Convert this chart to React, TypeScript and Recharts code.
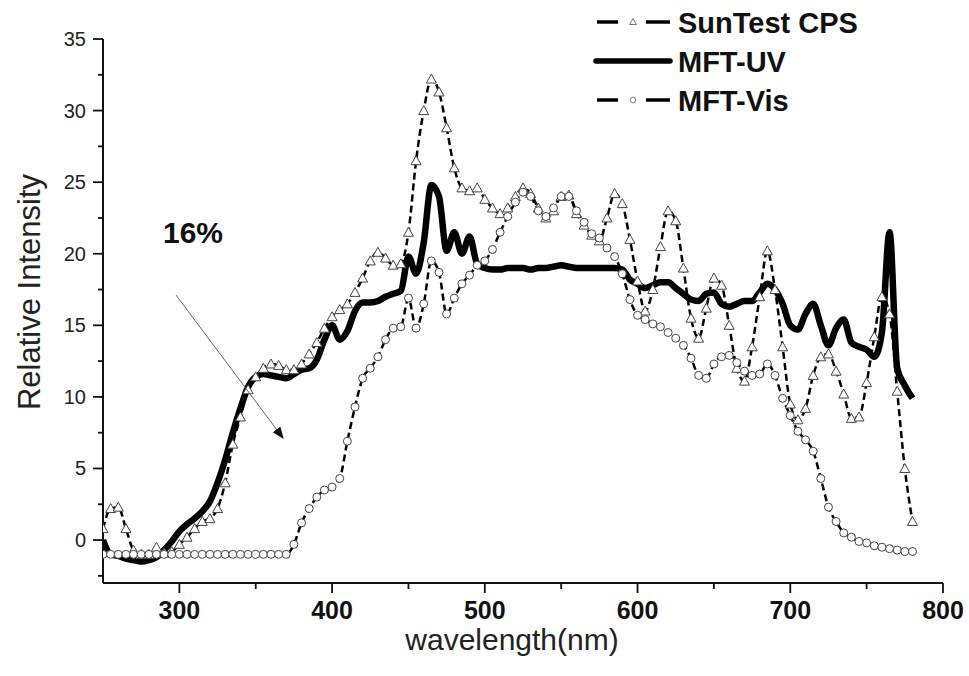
import React from 'react';
import { LineChart, Line, XAxis, YAxis } from 'recharts';

const wavelength = [
  250, 255, 260, 265, 270, 275, 280, 285, 290, 295,
  300, 305, 310, 315, 320, 325, 330, 335, 340, 345,
  350, 355, 360, 365, 370, 375, 380, 385, 390, 395,
  400, 405, 410, 415, 420, 425, 430, 435, 440, 445,
  450, 455, 460, 465, 470, 475, 480, 485, 490, 495,
  500, 505, 510, 515, 520, 525, 530, 535, 540, 545,
  550, 555, 560, 565, 570, 575, 580, 585, 590, 595,
  600, 605, 610, 615, 620, 625, 630, 635, 640, 645,
  650, 655, 660, 665, 670, 675, 680, 685, 690, 695,
  700, 705, 710, 715, 720, 725, 730, 735, 740, 745,
  750, 755, 760, 765, 770, 775, 780,
];

const sunTestCps = [
  0.8, 2.2, 2.3, 0.8, -0.7, -1.0, -1.0, -0.5, -0.9, -0.8,
  -0.3, 0.2, 0.8, 1.3, 1.5, 2.2, 4.0, 6.7, 8.6, 10.5,
  11.4, 12.0, 12.3, 12.2, 11.9, 11.9, 12.3, 13.0, 13.8, 14.8,
  15.6, 16.1, 16.5, 17.3, 18.3, 19.5, 20.1, 19.7, 19.2, 19.3,
  21.5, 26.5, 30.0, 32.2, 31.3, 28.8, 26.0, 24.6, 24.4, 24.6,
  23.8, 23.2, 22.8, 23.2, 24.0, 24.6, 24.2, 23.2, 22.5, 23.0,
  24.0, 24.1, 22.8, 22.0, 21.3, 20.9, 22.5, 24.2, 23.5, 21.0,
  18.1, 16.0, 17.5, 20.5, 23.0, 22.3, 19.0, 15.5, 14.1, 16.2,
  18.3, 17.8, 15.0, 12.0, 11.1, 13.5, 17.0, 20.2, 17.5, 13.5,
  9.5, 8.4, 9.2, 11.5, 12.8, 13.0, 11.8, 10.2, 8.5, 8.6,
  11.0, 14.2, 17.0, 15.8, 10.4, 5.0, 1.3,
];

const mftUv = [
  0.0, -1.0, -1.1, -1.3, -1.4, -1.5, -1.4, -1.2, -0.7, -0.1,
  0.6, 1.1, 1.5, 2.0, 2.7, 4.0, 5.6, 7.5, 9.2, 10.7,
  11.4, 11.6, 11.5, 11.4, 11.3, 11.6, 11.9, 12.0, 12.6, 14.0,
  15.0, 14.0, 14.6, 16.0, 16.6, 16.6, 16.7, 17.0, 17.2, 17.4,
  19.8, 18.6, 20.8, 24.8, 24.0, 20.2, 21.5, 20.0, 21.2, 19.3,
  19.0, 18.9, 18.9, 19.0, 19.0, 19.0, 18.9, 19.0, 19.0, 19.1,
  19.2, 19.1, 19.0, 19.0, 19.0, 19.0, 19.0, 19.0, 18.9, 18.2,
  17.9, 17.6, 17.8, 18.0, 18.0, 17.6, 17.2, 16.8, 16.7, 17.2,
  17.3, 16.5, 16.3, 16.5, 16.7, 16.7, 17.3, 17.9, 17.5, 16.5,
  15.0, 14.7, 15.8, 16.5, 15.0, 13.6, 14.8, 15.4, 13.8, 13.5,
  13.3, 12.8, 14.5, 21.5, 12.0, 10.8, 9.9,
];

const mftVis = [
  -1.0, -1.0, -1.0, -1.0, -1.0, -1.0, -1.0, -1.0, -1.0, -1.0,
  -1.0, -1.0, -1.0, -1.0, -1.0, -1.0, -1.0, -1.0, -1.0, -1.0,
  -1.0, -1.0, -1.0, -1.0, -1.0, -0.3, 1.2, 2.2, 3.0, 3.5,
  3.7, 4.3, 6.9, 9.3, 11.3, 12.0, 12.8, 14.0, 14.8, 14.9,
  16.9, 14.8, 16.5, 19.5, 18.7, 15.8, 16.9, 17.9, 18.5, 19.2,
  19.5, 20.3, 21.5, 22.6, 23.6, 24.3, 24.0, 23.0, 22.6, 23.2,
  24.0, 24.0, 23.0, 22.2, 21.4, 21.1, 20.4, 19.8, 18.6, 16.8,
  15.7, 15.4, 15.1, 14.9, 14.5, 14.1, 13.6, 12.7, 11.5, 11.3,
  12.3, 12.8, 12.9, 12.4, 11.8, 11.5, 11.6, 12.3, 11.5, 9.9,
  8.7, 7.6, 7.0, 6.2, 4.3, 2.3, 1.3, 0.5, 0.2, -0.1,
  -0.2, -0.4, -0.5, -0.6, -0.7, -0.8, -0.8,
];

const xTicks = [300, 350, 400, 450, 500, 550, 600, 650, 700, 750, 800];
const yTicks = [-2.5, 0, 2.5, 5, 7.5, 10, 12.5, 15, 17.5, 20, 22.5, 25, 27.5, 30, 32.5, 35];

const seriesNames = ['SunTest CPS', 'MFT-UV', 'MFT-Vis'];

const data = wavelength.map((w, i) => ({
  w,
  sun: sunTestCps[i],
  uv: mftUv[i],
  vis: mftVis[i],
}));

const FONT = '"Liberation Sans", Arial, Helvetica, sans-serif';

const TriangleDot = (props: any) => {
  const { cx, cy, index } = props;
  if (cx == null || cy == null) return <g key={`t-${index}`} />;
  const s = 5;
  return (
    <path
      key={`t-${index}`}
      d={`M${cx},${cy - s} L${cx + s},${cy + s * 0.8} L${cx - s},${cy + s * 0.8} Z`}
      fill="#fff"
      stroke="#444"
      strokeWidth={1}
    />
  );
};

const CircleDot = (props: any) => {
  const { cx, cy, index } = props;
  if (cx == null || cy == null) return <g key={`c-${index}`} />;
  return <circle key={`c-${index}`} cx={cx} cy={cy} r={4} fill="#fff" stroke="#444" strokeWidth={1} />;
};

const XTick = (props: any) => {
  const { x, y, payload } = props;
  const major = payload.value % 100 === 0;
  return (
    <g>
      <line x1={x} y1={y} x2={x} y2={y + (major ? 10 : 6)} stroke="#111" strokeWidth={1.8} />
      {major && (
        <text x={x} y={y + 36} textAnchor="middle" fontFamily={FONT} fontWeight="bold" fontSize={25} fill="#111">
          {payload.value}
        </text>
      )}
    </g>
  );
};

const YTick = (props: any) => {
  const { x, y, payload } = props;
  const major = payload.value % 5 === 0;
  return (
    <g>
      <line x1={x} y1={y} x2={x - (major ? 10 : 5)} y2={y} stroke="#111" strokeWidth={1.8} />
      {major && (
        <text x={x - 17} y={y + 7} textAnchor="end" fontFamily={FONT} fontSize={20} fill="#222">
          {payload.value}
        </text>
      )}
    </g>
  );
};

const legendRows = [
  { name: seriesNames[0], kind: 'tri', cy: 22 },
  { name: seriesNames[1], kind: 'solid', cy: 61 },
  { name: seriesNames[2], kind: 'circ', cy: 100 },
];

export default function App() {
  return (
    <div style={{ position: 'absolute', left: 0, top: 0, width: 969, height: 676, background: '#fff' }}>
      <LineChart
        width={969}
        height={676}
        data={data}
        margin={{ top: 39, right: 26, left: 0, bottom: 33 }}
      >
        <XAxis
          dataKey="w"
          type="number"
          domain={[250, 800]}
          ticks={xTicks}
          tick={<XTick />}
          tickLine={false}
          tickSize={0}
          tickMargin={0}
          height={60}
          axisLine={{ stroke: '#111', strokeWidth: 2 }}
          allowDataOverflow
        />
        <YAxis
          type="number"
          domain={[-3, 35]}
          ticks={yTicks}
          tick={<YTick />}
          tickLine={false}
          tickSize={0}
          tickMargin={0}
          width={103}
          axisLine={{ stroke: '#111', strokeWidth: 2 }}
          allowDataOverflow
        />
        <Line
          dataKey="sun"
          name={seriesNames[0]}
          type="monotone"
          stroke="#000"
          strokeWidth={2.5}
          strokeDasharray="7 4"
          dot={TriangleDot}
          activeDot={false}
          isAnimationActive={false}
        />
        <Line
          dataKey="uv"
          name={seriesNames[1]}
          type="monotone"
          stroke="#000"
          strokeWidth={6.5}
          strokeLinejoin="round"
          dot={false}
          activeDot={false}
          isAnimationActive={false}
        />
        <Line
          dataKey="vis"
          name={seriesNames[2]}
          type="monotone"
          stroke="#000"
          strokeWidth={2.5}
          strokeDasharray="7 4"
          dot={CircleDot}
          activeDot={false}
          isAnimationActive={false}
        />
      </LineChart>
      <svg
        width={969}
        height={676}
        style={{ position: 'absolute', left: 0, top: 0, pointerEvents: 'none' }}
      >
        <defs>
          <marker id="arrowHead" viewBox="0 0 10 10" refX="9" refY="5" markerWidth="12" markerHeight="12" markerUnits="userSpaceOnUse" orient="auto">
            <path d="M0,1 L10,5 L0,9 Z" fill="#111" />
          </marker>
        </defs>
        <text
          transform="translate(40,292) rotate(-90)"
          textAnchor="middle"
          fontFamily={FONT}
          fontSize={31}
          fill="#222"
        >
          Relative Intensity
        </text>
        <text x={512} y={650} textAnchor="middle" fontFamily={FONT} fontSize={30} fill="#222">
          wavelength(nm)
        </text>
        <text x={163} y={243} fontFamily={FONT} fontWeight="bold" fontSize={30} fill="#111">
          16%
        </text>
        <line x1={176} y1={295} x2={283} y2={438} stroke="#666" strokeWidth={1} markerEnd="url(#arrowHead)" />
        {legendRows.map((r) => (
          <g key={r.name}>
            {r.kind === 'solid' ? (
              <line x1={596} y1={r.cy} x2={670} y2={r.cy} stroke="#000" strokeWidth={5.5} strokeLinecap="round" />
            ) : (
              <g>
                <line x1={597} y1={r.cy} x2={618} y2={r.cy} stroke="#000" strokeWidth={3.5} />
                <line x1={646} y1={r.cy} x2={670} y2={r.cy} stroke="#000" strokeWidth={3.5} />
                {r.kind === 'tri' ? (
                  <path d={`M633,${r.cy - 3.5} L636.5,${r.cy + 2.5} L629.5,${r.cy + 2.5} Z`} fill="#fff" stroke="#777" strokeWidth={1} />
                ) : (
                  <circle cx={633} cy={r.cy} r={2.8} fill="#fff" stroke="#777" strokeWidth={1} />
                )}
              </g>
            )}
            <text x={678} y={r.cy + 11} fontFamily={FONT} fontWeight="bold" fontSize={29} fill="#111">
              {r.name}
            </text>
          </g>
        ))}
      </svg>
    </div>
  );
}
